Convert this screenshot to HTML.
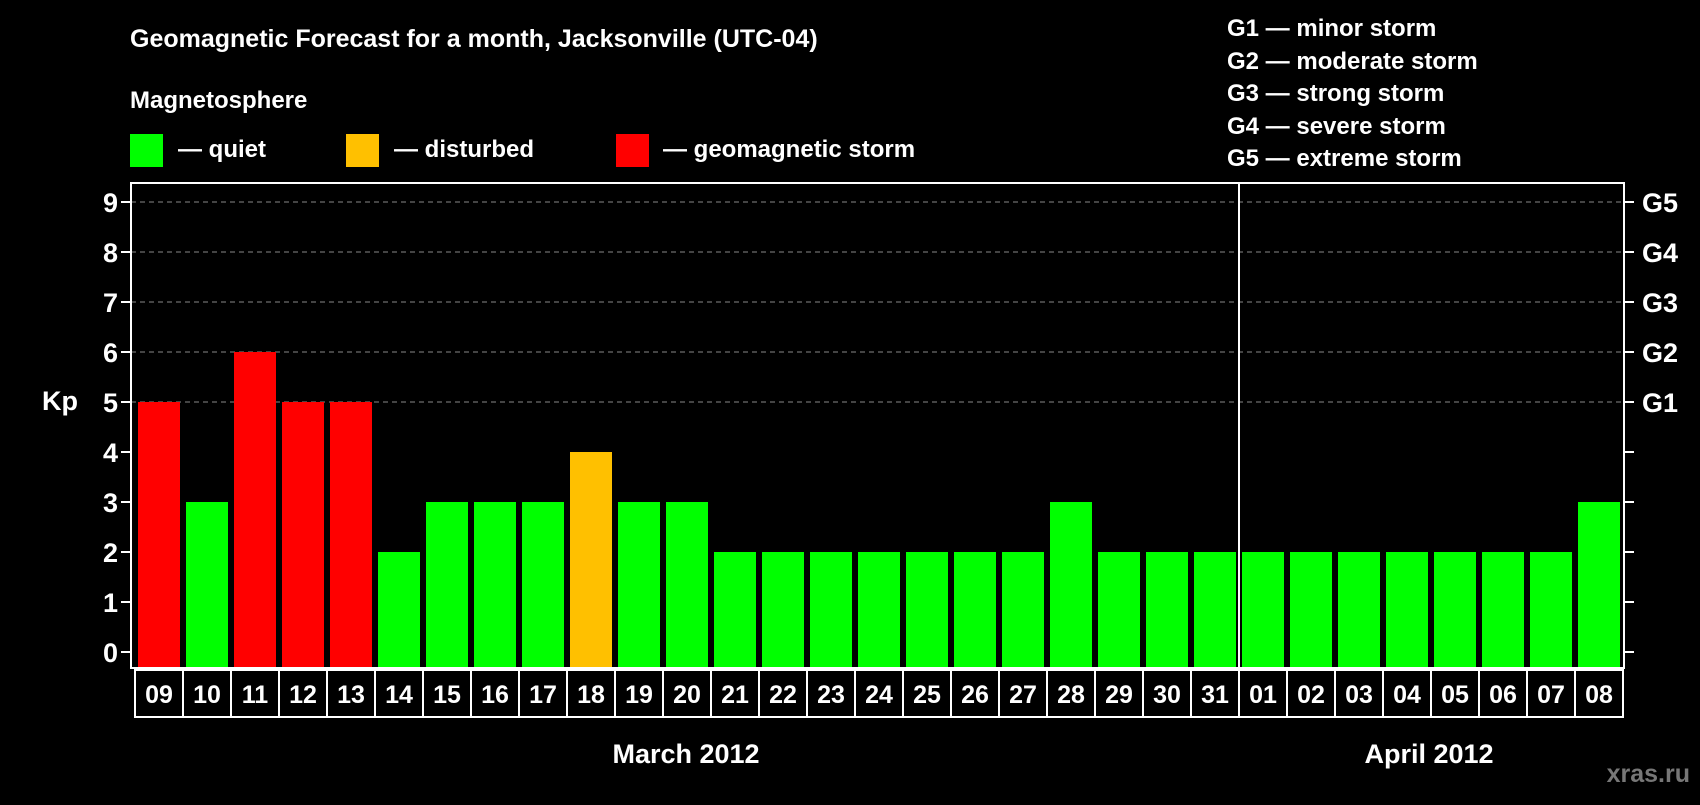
<!DOCTYPE html>
<html><head><meta charset="utf-8"><style>
body{margin:0;background:#000;width:1700px;height:800px;overflow:hidden}
svg text{font-family:"Liberation Sans",sans-serif;font-weight:bold;fill:#fff}
</style></head><body>
<svg id="c" width="1700" height="800" xmlns="http://www.w3.org/2000/svg">
<text x="130" y="47" font-size="25">Geomagnetic Forecast for a month, Jacksonville (UTC-04)</text>
<text x="130" y="108" font-size="24">Magnetosphere</text>
<g><rect x="130" y="134" width="33" height="33" fill="#00ff00"/><text x="178" y="157" font-size="24">— quiet</text></g>
<g><rect x="346" y="134" width="33" height="33" fill="#ffc000"/><text x="394" y="157" font-size="24">— disturbed</text></g>
<g><rect x="616" y="134" width="33" height="33" fill="#ff0000"/><text x="663" y="157" font-size="24">— geomagnetic storm</text></g>
<g font-size="24">
<text x="1227" y="36">G1 — minor storm</text><text x="1227" y="69">G2 — moderate storm</text><text x="1227" y="101">G3 — strong storm</text><text x="1227" y="134">G4 — severe storm</text><text x="1227" y="166">G5 — extreme storm</text></g>
<text x="42" y="410" font-size="27">Kp</text>
<text x="686" y="763" font-size="27" text-anchor="middle">March 2012</text>
<text x="1429" y="763" font-size="27" text-anchor="middle">April 2012</text>
<text x="1690" y="782" font-size="25" text-anchor="end" style="fill:#777">xras.ru</text>
<g id="grid"></g><g id="bars"></g><g id="axes"></g>
</svg>
<script>
const days=["09","10","11","12","13","14","15","16","17","18","19","20","21","22","23","24","25","26","27","28","29","30","31","01","02","03","04","05","06","07","08"];
const kp=[5,3,6,5,5,2,3,3,3,4,3,3,2,2,2,2,2,2,2,3,2,2,2,2,2,2,2,2,2,2,3];
const yTicks=[0,1,2,3,4,5,6,7,8,9];
const gLabels=["","","","","","G1","G2","G3","G4","G5"];
const NS="http://www.w3.org/2000/svg";
const L=131,R=1624,T=183,B=668;
const y=v=>652-v*50;
const x=i=>138+i*48;
function mk(tag,attrs,parent){const e=document.createElementNS(NS,tag);for(const k in attrs)e.setAttribute(k,attrs[k]);parent.appendChild(e);return e;}
const grid=document.getElementById('grid'),bars=document.getElementById('bars'),axes=document.getElementById('axes');
yTicks.forEach(v=>{
 if(v>=5){const g=mk('line',{x1:L,x2:R,y1:y(v),y2:y(v),stroke:'#888','stroke-dasharray':'5,4','stroke-width':1},grid);
 
 }
 mk('line',{x1:L-10,x2:L,y1:y(v),y2:y(v),stroke:'#fff','stroke-width':2},axes);
 mk('line',{x1:R,x2:R+10,y1:y(v),y2:y(v),stroke:'#fff','stroke-width':2},axes);
 const t=mk('text',{x:L-13,y:y(v)+10,'font-size':27,'text-anchor':'end'},axes);t.textContent=v;
 
 
 if(gLabels[v]){const g=mk('text',{x:R+18,y:y(v)+10,'font-size':27},axes);g.textContent=gLabels[v];
 
 }
});
kp.forEach((v,i)=>{
 const c=v>=5?'#ff0000':v==4?'#ffc000':'#00ff00';
 const r=mk('rect',{x:x(i),y:y(v),width:42,height:B-y(v),fill:c},bars);
 
 
 const b=mk('rect',{x:x(i)-3,y:B+2,width:48,height:47,fill:'none',stroke:'#fff','stroke-width':2},axes);
 
 
 const t=mk('text',{x:x(i)+21,y:B+35,'font-size':25,'text-anchor':'middle'},axes);t.textContent=days[i];
 
 
});
const f=mk('rect',{x:L,y:T,width:R-L,height:B-T,fill:'none',stroke:'#fff','stroke-width':2},axes);


const sep=x(23)-3;
const s=mk('line',{x1:sep,x2:sep,y1:T,y2:B,stroke:'#fff','stroke-width':2},axes);


</script>
</body></html>
